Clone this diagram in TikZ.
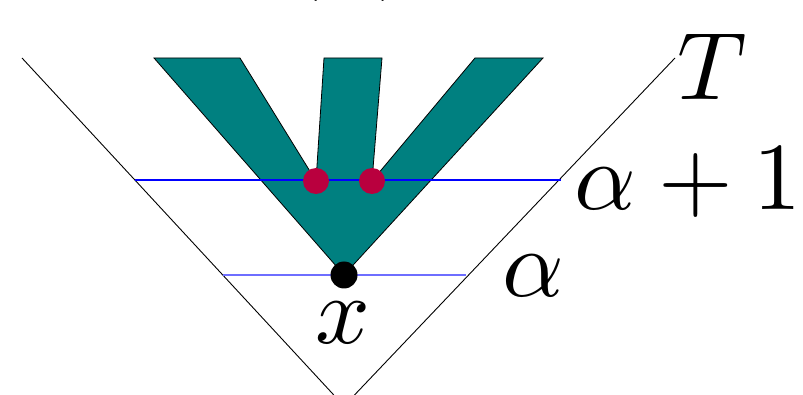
\documentclass[tikz,border=0pt]{standalone}
\definecolor{tealfill}{RGB}{0,128,128}
\definecolor{dotred}{RGB}{185,0,62}
\definecolor{lightlevel}{RGB}{110,110,255}
\definecolor{levelblue}{RGB}{0,0,255}
\begin{document}
\begin{tikzpicture}[x=1pt,y=-1pt,
  cone/.style={black, line width=0.9pt},
  levelline/.style={levelblue, line width=1.1pt},
  levelpale/.style={lightlevel, line width=1.6pt},
  branch/.style={fill=tealfill, draw=black, line width=0.8pt, line join=miter},
  dotnode/.style={circle, inner sep=0pt, minimum size=26pt},
  lab/.style={scale=9.6, inner sep=0pt}]
\useasboundingbox (0,0) rectangle (803,395);
% light cone
\coordinate (cLt) at (22,58);
\coordinate (cLb) at (333.8,395);
\coordinate (cRt) at (675,58);
\coordinate (cRb) at (354.5,395);
\draw[cone] (cLt) -- (cLb);
\draw[cone] (cRt) -- (cRb);
% branching region
\coordinate (apex) at (344,275);
\coordinate (d1) at (316,181);
\coordinate (d2) at (372,181);
\draw[branch] (apex) -- (154,58) -- (240,58) -- (d1) -- (324,58) -- (382,58)
  -- (d2) -- (475,58) -- (543,58) -- cycle;
% levels
\coordinate (a1L) at (135,180);
\coordinate (a1R) at (561,180);
\coordinate (a0L) at (223,275);
\coordinate (a0R) at (466,275);
\draw[levelline] (a1L) -- (a1R);
\draw[levelpale] (a0L) -- (a0R);
% points
\node[dotnode, fill=black, minimum size=27pt] (x) at (apex) {};
\node[dotnode, fill=dotred] (r1) at (d1) {};
\node[dotnode, fill=dotred] (r2) at (d2) {};
% labels
\node[lab, anchor=base] (xl) at (343,343) {$x$};
\node[lab, anchor=base west] (al) at (501,297) {$\alpha$};
\node[lab, anchor=base west] (a1l) at (573,210) {$\alpha+1$};
\node[lab, anchor=base west] (tl) at (676,100) {$T$};
\node[lab, anchor=base] (cap) at (350,-22) {(b)};
\end{tikzpicture}
\end{document}
